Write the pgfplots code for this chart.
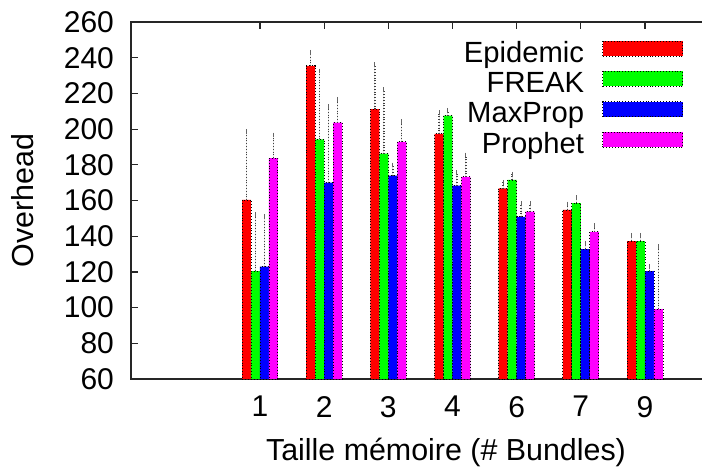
\documentclass[border=0pt]{standalone}
\usepackage{fontspec}
\setmainfont{Liberation Sans}
\usepackage{pgfplots}
\usepackage{pgfplotstable}
\pgfplotsset{compat=1.18}

\definecolor{gpred}{RGB}{255,0,0}
\definecolor{gpgreen}{RGB}{0,255,0}
\definecolor{gpblue}{RGB}{0,0,255}
\definecolor{gpmagenta}{RGB}{255,0,255}

% legend sample: wide flat box sitting on the text baseline
\pgfplotsset{
  boxlegend/.style={legend image code/.code={\draw[##1] (0pt,0pt) rectangle (40pt,7.5pt);}},
  gbar/.style={fill=#1, draw=black, densely dotted, line width=0.45pt, boxlegend,
    error bars/.cd, y dir=plus, y explicit,
    error bar style={black!75, densely dotted, line width=0.7pt},
    error mark options={solid, black!60, mark size=1.2pt, line width=0.5pt}},
}
\newcommand{\bigfont}{\fontsize{15}{18}\selectfont}
\newcommand{\labfont}{\fontsize{15.2}{18}\selectfont}
\newcommand{\legfont}{\fontsize{14.6}{17}\selectfont}

% x: group index, y: overhead, e: upper error
\pgfplotstableread{
x y e
0 160.3 38.2
1 235.4 7.6
2 211.2 25.0
3 197.3 12.0
4 166.8 3.4
5 154.7 3.3
6 137.3 3.2
}\epidemic
\pgfplotstableread{
x y e
0 120.5 31.8
1 194.3 38.2
2 186.2 36.0
3 207.5 3.0
4 171.5 3.2
5 158.6 3.0
6 137.3 3.2
}\freak
\pgfplotstableread{
x y e
0 122.9 28.0
1 170.0 42.5
2 173.9 6.0
3 168.3 7.4
4 150.8 7.6
5 132.8 3.2
6 120.5 2.4
}\maxprop
\pgfplotstableread{
x y e
0 183.8 12.9
1 203.6 13.1
2 192.9 11.3
3 173.2 12.3
4 153.7 4.7
5 142.4 3.5
6 99.2 34.9
}\prophet

\begin{document}
\begin{tikzpicture}
\begin{axis}[
  name=ax,
  scale only axis,
  width=286pt, height=178.5pt,
  ybar=0pt, bar width=0.14,
  xmin=-2.01, xmax=6.904,
  ymin=60, ymax=260,
  xtick={0,...,6}, xticklabels={1,2,3,4,6,7,9},
  ytick={60,80,...,260},
  ytick pos=left,
  tick align=inside,
  major tick length=3.5pt,
  axis line style={black!85, line width=0.6pt},
  tick style={black!85, line width=0.6pt},
  /pgf/number format/assume math mode=true,
  tick label style={font=\bigfont},
  yticklabel style={xshift=-5pt},
  xticklabel style={yshift=-5pt},
  xlabel={Taille mémoire (\# Bundles)},
  ylabel={Overhead},
  xlabel style={font=\labfont, at={([yshift=-26pt]rel axis cs:0.5507,0)}, anchor=north},
  ylabel style={font=\labfont, at={([xshift=-54pt]rel axis cs:0,0.5)}, anchor=center},
  legend cell align=right,
  legend plot pos=right,
  legend style={at={(rel axis cs:0.965,0.948)}, anchor=north east,
    draw=none, fill=none, inner sep=0pt, outer sep=0pt, font=\legfont,
    row sep=0pt, column sep=9pt,
    nodes={inner sep=0pt, text height=10.5pt, text depth=4.5pt}},
]
\addplot[gbar=gpred] table[x=x, y=y, y error=e] {\epidemic};
\addlegendentry{Epidemic}
\addplot[gbar=gpgreen] table[x=x, y=y, y error=e] {\freak};
\addlegendentry{FREAK}
\addplot[gbar=gpblue] table[x=x, y=y, y error=e] {\maxprop};
\addlegendentry{MaxProp}
\addplot[gbar=gpmagenta] table[x=x, y=y, y error=e] {\prophet};
\addlegendentry{Prophet}
\end{axis}
\pgfresetboundingbox
\path[use as bounding box] ([shift={(-65.5pt,-46pt)}]ax.south west) rectangle ([shift={(-0.5pt,11pt)}]ax.north east);
\end{tikzpicture}
\end{document}
